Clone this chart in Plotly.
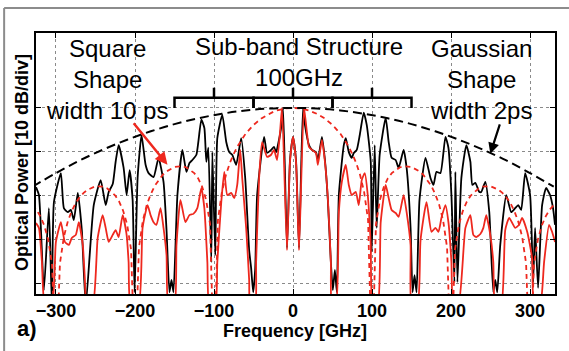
import plotly.graph_objects as go

# ---- data (frequency in GHz, power in dB, 10 dB/div) ----
black_f = [-325.3,-321.6,-315.3,-309,-305.2,-302.6,-293.8,-290,-285,-281.2,-277.4,-272.4,-267.3,-262.3,
           -252.2,-243.4,-237.1,-233.3,-228.2,-224.5,-220.7,-214.4,-210.6,-206.8,-203,-200.5,-196.7,-191.7,
           -186.6,-182.8,-176.5,-170.2,-163.9,-160.1,-156.4,-153.8,-151.3,-146.3,-140,-134.9,-131.1,-127.4,
           -122.3,-116,-112.2,-109.7,-107.2,-103.4,-102.1,-98.4,-95.8,-89.5,-84.5,-80.7,-76.9,-71.9,-65.6,
           -60.5,-55.5,-53,-50.4,-47.9,-45.4,-36.6,-32.8,-27.7,-24,-21.4,-15.1,-12.6,-7.6,-3.8,0,3.8,7.6,
           12.6,15.1,20.2,24,29,31.5,36.6,40.4,44.1,47.9,50.4,53,55.5,58,64.3,66.8,70.6,74.4,76.9,80.7,
           84.5,89.5,93.3,98.4,99.6,103.4,105.9,109.7,117.3,121.1,124.8,129.9,133.7,140,143.8,148.8,151.3,
           153.8,156.4,160.1,167.7,174,177.8,181.6,186.6,192.9,196.7,200.5,204.3,205.5,208.1,213.1,219.4,
           224.5,227,230.8,235.8,238.3,243.4,248.4,253.5,256,258.5,262.3,269.9,276.2,281.2,285,288.8,
           293.8,300.1,303.9,306.4,310.2,315.3,320.3,325.3,329.1,331.6]
black_db = [-18.1,-19.9,-41.6,-22.9,-45,-21.5,-14.9,-22.9,-23.8,-23.3,-25.6,-19.4,-27.9,-45,
            -22.2,-16.5,-22.2,-19.2,-17.4,-12.3,-8.5,-13.7,-19.9,-14.2,-21.0,-42.1,-16.0,-6.2,
            -13.0,-14.9,-15.8,-11.4,-16.9,-27.9,-42.1,-39.3,-42.1,-19.9,-9.6,-14.6,-12.6,-11.9,
            -10.7,-2.7,-4.6,-12.3,-9.1,-35.2,-10.1,-33.6,-6.9,-1.6,-7.8,-10.1,-10.7,-13.0,-6.9,
            -16.0,-32.5,-36.6,-42.1,-37.0,-19.9,-6.6,-10.3,-9.6,-8.9,-10.1,-4.6,0,-32.0,-11.9,-6.6,-11.9,-32.0,
            0,-3.9,-8.5,-9.6,-10.1,-11.9,-6.6,-11.9,-21.0,-35.2,-41.6,-37.0,-42.1,-19.9,-8.5,-6.9,-10.1,-11.4,-10.3,-9.6,
            -6.2,-1.1,-3.9,-12.3,-32.9,-8.5,-27.4,-10.7,-2.3,-7.8,-11.4,-11.9,-13.7,-9.6,-13.7,-27.4,-42.1,
            -38.2,-42.1,-21.0,-11.4,-16.0,-17.6,-14.6,-14.9,-6.6,-9.1,-19.9,-39.8,-14.6,-39.8,-16.0,
            -8.5,-12.3,-17.6,-17.1,-19.2,-19.2,-16.9,-23.8,-42.1,-39.3,-42.1,-31.3,-19.9,-23.8,-22.9,-22.2,
            -23.3,-14.9,-19.9,-39.8,-27.4,-41.1,-22.2,-18.3,-19.9,-22.9,-26.7]

red_f = [-325.3,-321.6,-317.8,-314,-305.2,-300.1,-293.8,-288.8,-283.7,-280,-274.9,-271.1,-266.1,-263.5,
         -261,-253.5,-247.2,-240.9,-237.1,-233.3,-228.2,-224.5,-220.7,-215.6,-210.6,-208.1,-205.5,-195.5,
         -190.4,-184.1,-180.3,-176.5,-172.8,-167.7,-163.9,-160.1,-157.6,-150.1,-147.5,-142.5,-136.2,-131.1,
         -126.1,-121.1,-116,-112.2,-108.4,-105.9,-98.4,-95.8,-90.8,-87,-83.2,-78.2,-74.4,-70.6,-66.8,-64.3,
         -59.3,-55.5,-54.2,-47.9,-46.7,-42.9,-39.1,-32.8,-27.7,-24,-20.2,-16.4,-13.9,-7.6,-3.8,0,3.8,7.6,
         13.9,20.2,24,29,31.5,36.6,40.4,44.1,47.9,49.2,54.2,58,61.8,66.8,70.6,74.4,79.4,83.2,87,90.8,94.6,
         98.4,100.9,107.2,111,117.3,121.1,124.8,129.9,133.7,140,143.8,148.8,150.1,157.6,161.4,169,175.3,
         180.3,184.1,187.9,192.9,196.7,200.5,203,209.3,218.2,224.5,228.2,232,237.1,240.9,244.6,249.7,253.5,
         256,263.5,268.6,273.6,281.2,286.2,290,296.4,302.6,305.2,312.7,317.8,324.1,327.9,331.6]
red_db = [-26.3,-27.4,-35.2,-45,-45,-30.6,-26.1,-30.6,-31.3,-29.7,-29.0,-26.1,-31.3,-38.9,
          -45,-45,-29.7,-24.5,-27.4,-30.6,-29.0,-27.9,-29.5,-24.5,-29.0,-35.2,-45,-45,
          -27.4,-22.2,-24.5,-26.1,-26.7,-22.9,-27.4,-33.6,-45,-45,-31.3,-21.0,-26.1,-24.5,
          -24.2,-22.9,-18.3,-22.9,-35.2,-45,-45,-35.2,-21.5,-14.6,-19.9,-19.4,-20.6,-17.6,-9.6,-16.0,
          -27.4,-39.3,-45,-45,-35.2,-16.0,-7.8,-11.2,-10.7,-9.6,-11.9,-5.5,0,-32.5,-12.3,-6.6,-12.3,-32.5,
          0,-8.9,-9.6,-10.3,-13.0,-7.3,-12.3,-20.6,-35.2,-45,-45,-23.8,-16.9,-13.0,-17.6,-19.9,-19.2,-22.2,-16.5,-14.9,-19.9,
          -31.3,-45,-45,-26.1,-17.6,-20.6,-23.3,-24.0,-24.9,-19.9,-23.8,-31.3,-45,-45,-30.2,-21.5,-28.3,
          -27.4,-28.3,-25.1,-22.2,-26.1,-35.2,-45,-45,-27.4,-24.5,-29.0,-29.5,-28.8,-27.4,-24.5,-29.0,-35.2,
          -45,-45,-27.9,-25.1,-27.4,-26.7,-25.1,-28.3,-34.3,-45,-45,-35.2,-26.7,-28.3,-30.6]

sq_env_f = [-330,-325,-320,-315,-310,-305,-300,-295,-290,-285,-280,-275,-270,-265,-260,-250,-240,-235,-225,
            -220,-215,-210,-205,-200,-195,-190,-185,-180,-175,-165,-160,-150,-140,-135,-125,-120,-115,-110,
            -105,-100,-95,-90,-85,-80,-75,-70,-60,-50,-40,-30,-25,-20,-10,0,10,20,25,30,40,50,60,70,75,80,85,
            90,95,100,105,110,115,120,125,135,140,150,160,165,175,180,185,190,195,200,205,210,215,220,225,235,
            240,250,260,265,270,275,280,285,290,295,300,305,310,315,320,325,330]
sq_env_db = [-22.2,-23.2,-24.7,-26.8,-30.0,-35.7,-60,-35.5,-29.4,-25.9,-23.5,-21.7,-20.4,-19.4,-18.7,-17.9,
             -18.0,-18.4,-20.0,-21.4,-23.5,-26.6,-32.3,-60,-31.9,-25.7,-22.1,-19.7,-17.8,-15.3,-14.5,-13.5,
             -13.3,-13.6,-14.9,-16.1,-18.0,-21.0,-26.5,-60,-25.6,-19.2,-15.4,-12.6,-10.5,-8.7,-5.9,-3.9,-2.4,
             -1.33,-0.9,-0.58,-0.14,0,-0.14,-0.58,-0.9,-1.33,-2.4,-3.9,-5.9,-8.7,-10.5,-12.6,-15.4,-19.2,-25.6,
             -60,-26.5,-21.0,-18.0,-16.1,-14.9,-13.6,-13.3,-13.5,-14.5,-15.3,-17.8,-19.7,-22.1,-25.7,-31.9,-60,
             -32.3,-26.6,-23.5,-21.4,-20.0,-18.4,-18.0,-17.9,-18.7,-19.4,-20.4,-21.7,-23.5,-25.9,-29.4,-35.5,
             -60,-35.7,-30.0,-26.8,-24.7,-23.2,-22.2]

ga_env_f = [-330,-300,-270,-240,-210,-180,-150,-120,-90,-60,-30,0,30,60,90,120,150,180,210,240,270,300,330]
ga_env_db = [-18.0,-14.9,-12.0,-9.5,-7.28,-5.35,-3.71,-2.38,-1.34,-0.59,-0.15,0,-0.15,-0.59,-1.34,-2.38,
             -3.71,-5.35,-7.28,-9.5,-12.0,-14.9,-18.0]

x_ticks = [-300, -200, -100, 0, 100, 200, 300]
x_ticktext = ["\u2212300", "\u2212200", "\u2212100", "0", "100", "200", "300"]
y_ticks = [-40, -30, -20, -10, 0]

RED = "rgb(238,40,30)"

fig = go.Figure()
fig.add_trace(go.Scatter(x=black_f, y=black_db, mode="lines",
                         line=dict(color="black", width=1.8, shape="spline", smoothing=0.5),
                         showlegend=False))
fig.add_trace(go.Scatter(x=red_f, y=red_db, mode="lines",
                         line=dict(color=RED, width=1.8, shape="spline", smoothing=0.5),
                         showlegend=False))
fig.add_trace(go.Scatter(x=sq_env_f, y=sq_env_db, mode="lines",
                         line=dict(color=RED, width=1.8, dash="5px,4px"), showlegend=False))
fig.add_trace(go.Scatter(x=ga_env_f, y=ga_env_db, mode="lines",
                         line=dict(color="black", width=2, dash="9px,5px", shape="spline"),
                         showlegend=False))

# sub-band brackets
bracket_edges = [(-150, -50), (-50, 50), (50, 150)]
for a, b in bracket_edges:
    c = (a + b) / 2
    fig.add_shape(type="path", xref="x", yref="y",
                  path=f"M {a},0 L {a},2.3 L {b},2.3 L {b},0 M {c},2.3 L {c},4.6",
                  line=dict(color="black", width=2.5))

# outer frame (partial, as in the source figure)
fig.add_shape(type="line", xref="paper", yref="paper", x0=-0.0614, x1=1.06, y0=1.0958, y1=1.0958,
              line=dict(color="#8c8c8c", width=2))
fig.add_shape(type="line", xref="paper", yref="paper", x0=-0.0614, x1=-0.0614, y0=1.0958, y1=-0.25,
              line=dict(color="#8c8c8c", width=2))

TXT = dict(family="Liberation Sans, Arial, sans-serif", size=24, color="black")
fig.add_annotation(xref="paper", yref="paper", x=0.136, y=0.820, text="Square<br>Shape<br>width 10 ps",
                   showarrow=False, font=TXT, xanchor="center", yanchor="middle", align="center")
fig.add_annotation(xref="paper", yref="paper", x=0.507, y=0.889, text="Sub-band Structure<br>100GHz",
                   showarrow=False, font=TXT, xanchor="center", yanchor="middle", align="center")
fig.add_annotation(xref="paper", yref="paper", x=0.858, y=0.820, text="Gaussian<br>Shape<br>width 2ps",
                   showarrow=False, font=TXT, xanchor="center", yanchor="middle", align="center")

# arrows
fig.add_annotation(x=-158.9, y=-13.0, xref="x", yref="y", ax=-35, ay=-43, text="", showarrow=True,
                   arrowhead=2, arrowsize=1, arrowwidth=2.5, arrowcolor=RED)
fig.add_annotation(x=249.7, y=-10.5, xref="x", yref="y", ax=10, ay=-31, text="", showarrow=True,
                   arrowhead=2, arrowsize=1, arrowwidth=2.2, arrowcolor="black")

BOLD = dict(family="Liberation Sans, Arial, sans-serif", size=18, color="black", weight="bold")
fig.add_annotation(xref="paper", yref="paper", x=0.499, y=-0.126, text="Frequency [GHz]",
                   showarrow=False, font=BOLD, xanchor="center", yanchor="top",
                   yshift=8)
fig.add_annotation(xref="paper", yref="paper", x=-0.0269, y=0.502, text="Optical Power [10 dB/div]",
                   showarrow=False, font=BOLD, textangle=-90, xanchor="center", yanchor="middle")
fig.add_annotation(xref="paper", yref="paper", x=-0.0173, y=-0.134, text="a)",
                   showarrow=False, font=dict(family="Liberation Sans, Arial, sans-serif", size=22,
                                              color="black", weight="bold"),
                   xanchor="center", yanchor="middle")

fig.update_xaxes(range=[-325.3, 331.6], tickvals=x_ticks, ticktext=x_ticktext,
                 ticks="inside", ticklen=5, tickwidth=1, tickcolor="black",
                 showline=True, linecolor="black", linewidth=1.5, mirror="ticks",
                 showgrid=True, gridcolor="#8a8a8a", gridwidth=1, griddash="dot",
                 zeroline=False,
                 tickfont=dict(family="Liberation Sans, Arial, sans-serif", size=18, color="black",
                               weight="bold"))
fig.update_yaxes(range=[-42.5, 17.1], tickvals=y_ticks, showticklabels=False,
                 ticks="inside", ticklen=5, tickwidth=1, tickcolor="black",
                 showline=True, linecolor="black", linewidth=1.5, mirror="ticks",
                 showgrid=True, gridcolor="#8a8a8a", gridwidth=1, griddash="dot",
                 zeroline=False)

fig.update_layout(width=569, height=351, margin=dict(l=36, r=12, t=33, b=57),
                  paper_bgcolor="white", plot_bgcolor="white", showlegend=False)

fig.write_html("out.html")
